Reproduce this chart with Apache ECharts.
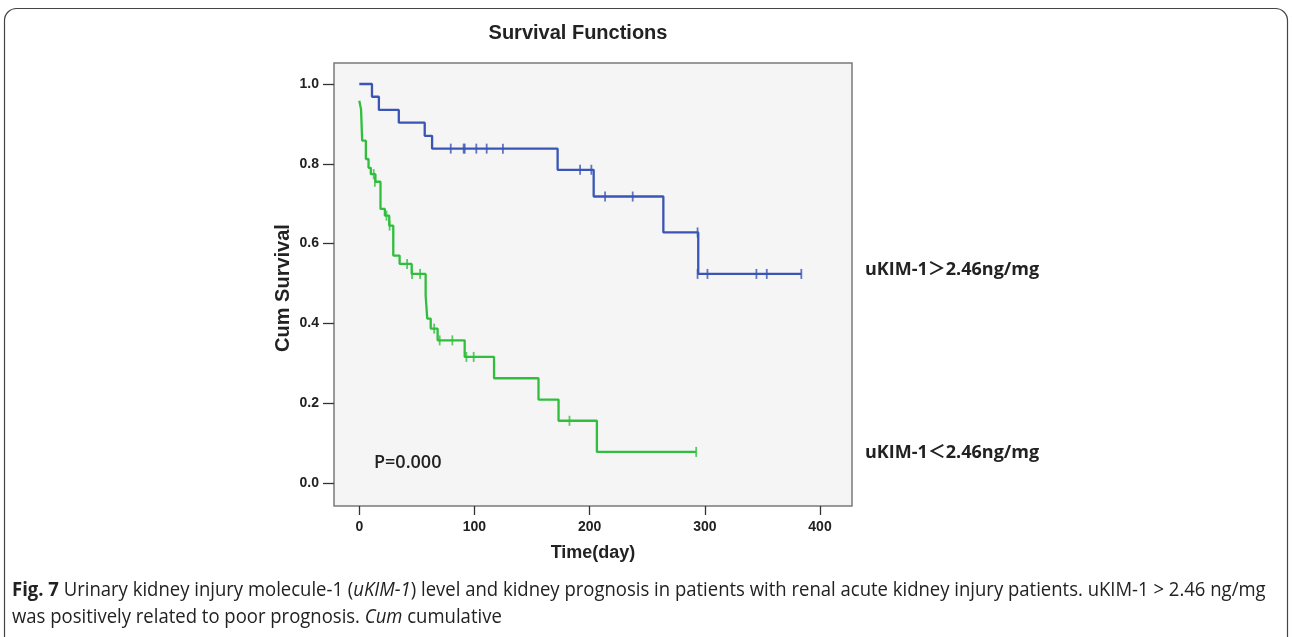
<!DOCTYPE html>
<html>
<head>
<meta charset="utf-8">
<script src="https://cdn.jsdelivr.net/npm/echarts@6/dist/echarts.min.js"></script>
<style>
html,body{margin:0;padding:0;background:#fff;}
#c{width:1292px;height:637px;}
</style>
</head>
<body>
<div id="c"></div>
<script>
// ---- Data ----
// High uKIM-1 group (blue): event times (days) and survival after each step
var blueTimes = [0, 11, 17, 34.3, 56.8, 63.2, 172.2, 203.5, 264, 294.3, 383.8];
var blueSurv  = [1.0, 0.968, 0.935, 0.903, 0.870, 0.838, 0.785, 0.718, 0.628, 0.524, 0.524];
var blueCensorTimes = [79.4, 90.6, 91.5, 101.6, 110.6, 124.7, 191.7, 201.5, 213.4, 237.4, 293.7, 293.7, 302.3, 344.8, 353.8, 383.8];
var blueCensorSurv  = [0.838, 0.838, 0.838, 0.838, 0.838, 0.838, 0.785, 0.785, 0.718, 0.718, 0.628, 0.524, 0.524, 0.524, 0.524, 0.524];

// Low uKIM-1 group (green)
var greenTimes = [0, 1.5, 2.5, 5.7, 8, 10, 14, 18.4, 22.2, 26, 29.5, 35, 45.5, 57.6, 59, 62, 68, 91.5, 117, 155.6, 173, 206.3, 292.5];
var greenSurv  = [0.958, 0.937, 0.858, 0.812, 0.79, 0.774, 0.755, 0.687, 0.67, 0.645, 0.57, 0.549, 0.524, 0.47, 0.412, 0.387, 0.3575, 0.316, 0.2625, 0.209, 0.156, 0.078, 0.078];
var greenCensorTimes = [12.5, 13.5, 23.6, 26.3, 41.5, 45.8, 52.8, 65, 69.8, 80.8, 93, 99.3, 182.5, 292.5];
var greenCensorSurv  = [0.774, 0.755, 0.67, 0.645, 0.549, 0.524, 0.524, 0.387, 0.3575, 0.3575, 0.316, 0.316, 0.156, 0.078];

var xTickValues = [0, 100, 200, 300, 400];
var yTickValues = [0.0, 0.2, 0.4, 0.6, 0.8, 1.0];
var xRange = [-21.97, 427.8];
var yRange = [-0.0576, 1.0526];

var titleText = 'Survival Functions';
var xName = 'Time(day)';
var yName = 'Cum Survival';
var highLabel = 'uKIM-1\uFF1E2.46ng/mg';
var lowLabel = 'uKIM-1\uFF1C2.46ng/mg';
var pText = 'P=0.000';
var captionLine1 = ['Fig. 7', ' Urinary kidney injury molecule-1 (', 'uKIM-1', ') level and kidney prognosis in patients with renal acute kidney injury patients. uKIM-1 > 2.46 ng/mg'];
var captionLine2 = ['was positively related to poor prognosis. ', 'Cum', ' cumulative'];

function zip(a, b) { return a.map(function (v, i) { return [v, b[i]]; }); }

var BLUE = '#3a55b5';
var GREEN = '#2fbf3c';
var AX_FONT = '"Liberation Sans", Arial, sans-serif';

var chart = echarts.init(document.getElementById('c'), null, {renderer: 'canvas'});

var capFont = '"Open Sans", "Noto Sans", sans-serif';
var capScale = 0.925;

chart.setOption({
  animation: false,
  backgroundColor: '#ffffff',
  grid: [
    {left: 334, top: 63, width: 518, height: 443, show: true, backgroundColor: '#f5f5f5', borderColor: '#7a7a7a', borderWidth: 1.5}
  ],
  xAxis: [
    {type: 'value', min: xRange[0], max: xRange[1],
      axisLine: {show: false, onZero: false},
      axisTick: {show: true, length: 9, customValues: xTickValues, lineStyle: {color: '#333', width: 1.3}},
      axisLabel: {margin: 14, customValues: xTickValues, color: '#222', fontSize: 14, fontWeight: 'bold', fontFamily: AX_FONT,
        formatter: function (v) { return String(v); }},
      splitLine: {show: false}}
  ],
  yAxis: [
    {type: 'value', min: yRange[0], max: yRange[1],
      axisLine: {show: false, onZero: false},
      axisTick: {show: true, length: 11, customValues: yTickValues, lineStyle: {color: '#333', width: 1.3}},
      axisLabel: {margin: 15, customValues: yTickValues, color: '#222', fontSize: 14, fontWeight: 'bold', fontFamily: AX_FONT,
        formatter: function (v) { return v.toFixed(1); }},
      splitLine: {show: false}}
  ],
  series: [
    {type: 'line', step: 'end', data: zip(blueTimes, blueSurv),
      showSymbol: false, clip: false, lineStyle: {color: BLUE, width: 2.3}, z: 3},
    {type: 'line', step: 'end', data: zip(greenTimes, greenSurv),
      showSymbol: false, clip: false, lineStyle: {color: GREEN, width: 2.3}, z: 3},
    {type: 'scatter', data: zip(blueCensorTimes, blueCensorSurv),
      symbol: 'rect', symbolSize: [1.8, 10], itemStyle: {color: BLUE}, clip: false, z: 4},
    {type: 'scatter', data: zip(greenCensorTimes, greenCensorSurv),
      symbol: 'rect', symbolSize: [1.8, 10], itemStyle: {color: GREEN}, clip: false, z: 4}
  ],
  graphic: [
    {type: 'rect', shape: {x: 4.5, y: 8.5, width: 1283, height: 700, r: 12}, style: {fill: 'none', stroke: '#444', lineWidth: 1.2}, z: -10, silent: true},
    {type: 'text', x: 578, y: 33, style: {text: titleText, fill: '#222', font: 'bold 20px ' + AX_FONT, textAlign: 'center', textVerticalAlign: 'middle'}},
    {type: 'text', x: 593, y: 553, style: {text: xName, fill: '#222', font: 'bold 18px ' + AX_FONT, textAlign: 'center', textVerticalAlign: 'middle'}},
    {type: 'text', x: 283, y: 288, rotation: Math.PI / 2, style: {text: yName, fill: '#222', font: 'bold 20px ' + AX_FONT, textAlign: 'center', textVerticalAlign: 'middle'}},
    {type: 'text', x: 865, y: 270, style: {text: highLabel, fill: '#222', font: 'bold 18px "Open Sans", "Noto Sans CJK SC", sans-serif', textAlign: 'left', textVerticalAlign: 'middle'}},
    {type: 'text', x: 865, y: 453, style: {text: lowLabel, fill: '#222', font: 'bold 18px "Open Sans", "Noto Sans CJK SC", sans-serif', textAlign: 'left', textVerticalAlign: 'middle'}},
    {type: 'text', x: 374, y: 463, style: {text: pText, fill: '#222', font: '600 18px "Open Sans", sans-serif', textAlign: 'left', textVerticalAlign: 'middle'}},
    {type: 'text', x: 12, y: 590, scaleX: capScale, style: {
      text: '{b|' + captionLine1[0] + '}{n|' + captionLine1[1] + '}{i|' + captionLine1[2] + '}{n|' + captionLine1[3] + '}',
      textVerticalAlign: 'middle',
      rich: {
        b: {fontFamily: capFont, fontWeight: 'bold', fontSize: 20, fill: '#222', color: '#222'},
        n: {fontFamily: capFont, fontSize: 20, fill: '#222', color: '#222'},
        i: {fontFamily: capFont, fontStyle: 'italic', fontSize: 20, fill: '#222', color: '#222'}
      }}},
    {type: 'text', x: 12, y: 617, scaleX: capScale, style: {
      text: '{n|' + captionLine2[0] + '}{i|' + captionLine2[1] + '}{n|' + captionLine2[2] + '}',
      textVerticalAlign: 'middle',
      rich: {
        n: {fontFamily: capFont, fontSize: 20, fill: '#222', color: '#222'},
        i: {fontFamily: capFont, fontStyle: 'italic', fontSize: 20, fill: '#222', color: '#222'}
      }}}
  ]
});
</script>
</body>
</html>
